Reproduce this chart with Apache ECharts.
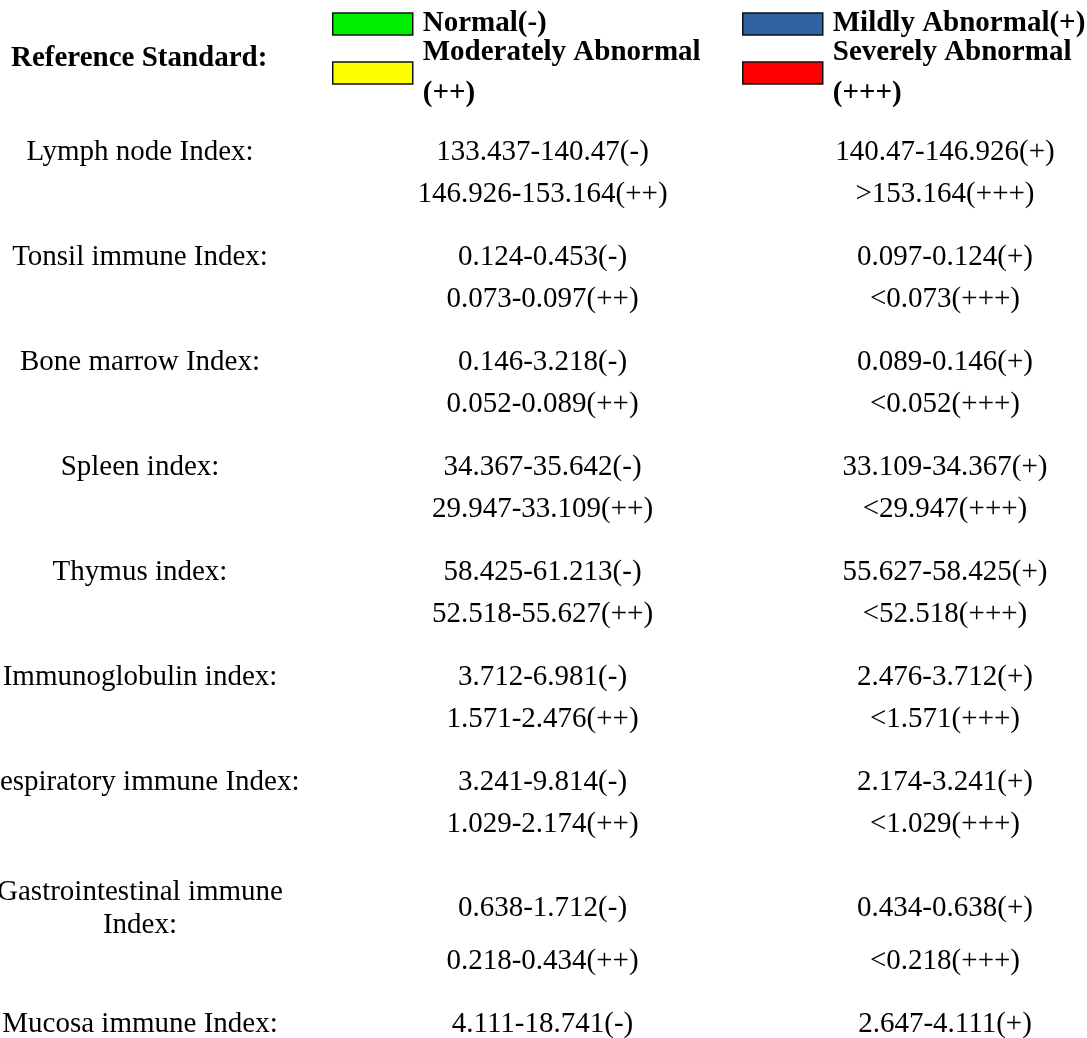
<!DOCTYPE html>
<html>
<head>
<meta charset="utf-8">
<script src="https://cdn.jsdelivr.net/npm/echarts@6/dist/echarts.min.js"></script>
<style>
  html, body { margin: 0; padding: 0; background: #fff; }
  #chart { width: 1087px; height: 1038px; }
</style>
</head>
<body>
<div id="chart"></div>
<script>
// 参考标准数据
const indexNames = [
  'Lymph node Index:',
  'Tonsil immune Index:',
  'Bone marrow Index:',
  'Spleen index:',
  'Thymus index:',
  'Immunoglobulin index:',
  'Respiratory immune Index:',
  'Gastrointestinal immune\nIndex:',
  'Mucosa immune Index:'
];
const normalRange = ['133.437-140.47', '0.124-0.453', '0.146-3.218', '34.367-35.642', '58.425-61.213', '3.712-6.981', '3.241-9.814', '0.638-1.712', '4.111-18.741'];
const mildRange = ['140.47-146.926', '0.097-0.124', '0.089-0.146', '33.109-34.367', '55.627-58.425', '2.476-3.712', '2.174-3.241', '0.434-0.638', '2.647-4.111'];
const moderateRange = ['146.926-153.164', '0.073-0.097', '0.052-0.089', '29.947-33.109', '52.518-55.627', '1.571-2.476', '1.029-2.174', '0.218-0.434', null];
const severeRange = ['>153.164', '<0.073', '<0.052', '<29.947', '<52.518', '<1.571', '<1.029', '<0.218', null];

const levels = [
  { name: 'Normal(-)', text: 'Normal(-)', suffix: '(-)', color: '#00ee00', values: normalRange, col: 1, line: 0 },
  { name: 'Mildly Abnormal(+)', text: 'Mildly Abnormal(+)', suffix: '(+)', color: '#2f63a3', values: mildRange, col: 2, line: 0 },
  { name: 'Moderately Abnormal(++)', text: 'Moderately Abnormal\n(++)', suffix: '(++)', color: '#ffff00', values: moderateRange, col: 1, line: 1 },
  { name: 'Severely Abnormal(+++)', text: 'Severely Abnormal\n(+++)', suffix: '(+++)', color: '#ff0000', values: severeRange, col: 2, line: 1 }
];

const FONT = '"Liberation Serif", "Times New Roman", serif';

// 每组两行的位置（两行标签的组间距稍大）
const rowPos = [];
let y = 0;
indexNames.forEach((name, i) => {
  const tall = name.indexOf('\n') >= 0;
  if (i > 0) y += 6 + (tall ? 2 : 0);
  const first = y;
  y += 4 + (tall ? 1 : 0);
  rowPos.push([first, y]);
});
// 最后一行（Mucosa 的第一行）贴着底部
const lastRow = rowPos[rowPos.length - 1][0];

const chart = echarts.init(document.getElementById('chart'));

const labelStyle = {
  show: true,
  position: 'inside',
  formatter: '{b}',
  color: '#000',
  fontFamily: FONT,
  fontSize: 29,
  lineHeight: 33
};

const series = [
  {
    name: 'index',
    type: 'scatter',
    symbolSize: 0,
    silent: true,
    itemStyle: { color: '#000', opacity: 1 },
    label: labelStyle,
    data: indexNames.map((n, i) => ({ name: n, value: [0, rowPos[i][0]] }))
  }
];
levels.forEach((lv) => {
  const data = [];
  lv.values.forEach((v, i) => {
    if (v == null) return;
    data.push({ name: v + lv.suffix, value: [lv.col, rowPos[i][lv.line]] });
  });
  series.push({
    name: lv.name,
    type: 'scatter',
    symbolSize: 0,
    silent: true,
    itemStyle: { color: lv.color, opacity: 1 },
    label: labelStyle,
    data: data
  });
});

const legendText = {};
levels.forEach((lv) => (legendText[lv.name] = lv.text));

const legendBase = {
  orient: 'vertical',
  icon: 'rect',
  itemWidth: 80,
  itemHeight: 22,
  itemGap: -12.5,
  padding: 0,
  top: 3.5,
  selectedMode: false,
  itemStyle: { borderColor: '#111', borderWidth: 1.5, opacity: 1 },
  formatter: (name) => legendText[name],
  textStyle: {
    color: '#000',
    fontFamily: FONT,
    fontSize: 29,
    fontWeight: 'bold',
    lineHeight: 41,
    padding: [0, 0, 0, 5]
  }
};

const option = {
  backgroundColor: '#fff',
  animation: false,
  title: {
    text: 'Reference Standard:',
    left: 11,
    top: 44.5,
    padding: 0,
    textStyle: { color: '#000', fontFamily: FONT, fontSize: 29, fontWeight: 'bold', lineHeight: 29 }
  },
  legend: [
    Object.assign({}, legendBase, { left: 332, data: [levels[0].name, levels[2].name] }),
    Object.assign({}, legendBase, { left: 742, data: [levels[1].name, levels[3].name] })
  ],
  grid: { left: 140, right: 142, top: 152, bottom: 14 },
  xAxis: {
    type: 'category',
    data: ['label', 'col1', 'col2'],
    boundaryGap: false,
    show: false
  },
  yAxis: {
    type: 'value',
    inverse: true,
    min: 0,
    max: lastRow,
    show: false
  },
  series: series
};

chart.setOption(option);
</script>
</body>
</html>
